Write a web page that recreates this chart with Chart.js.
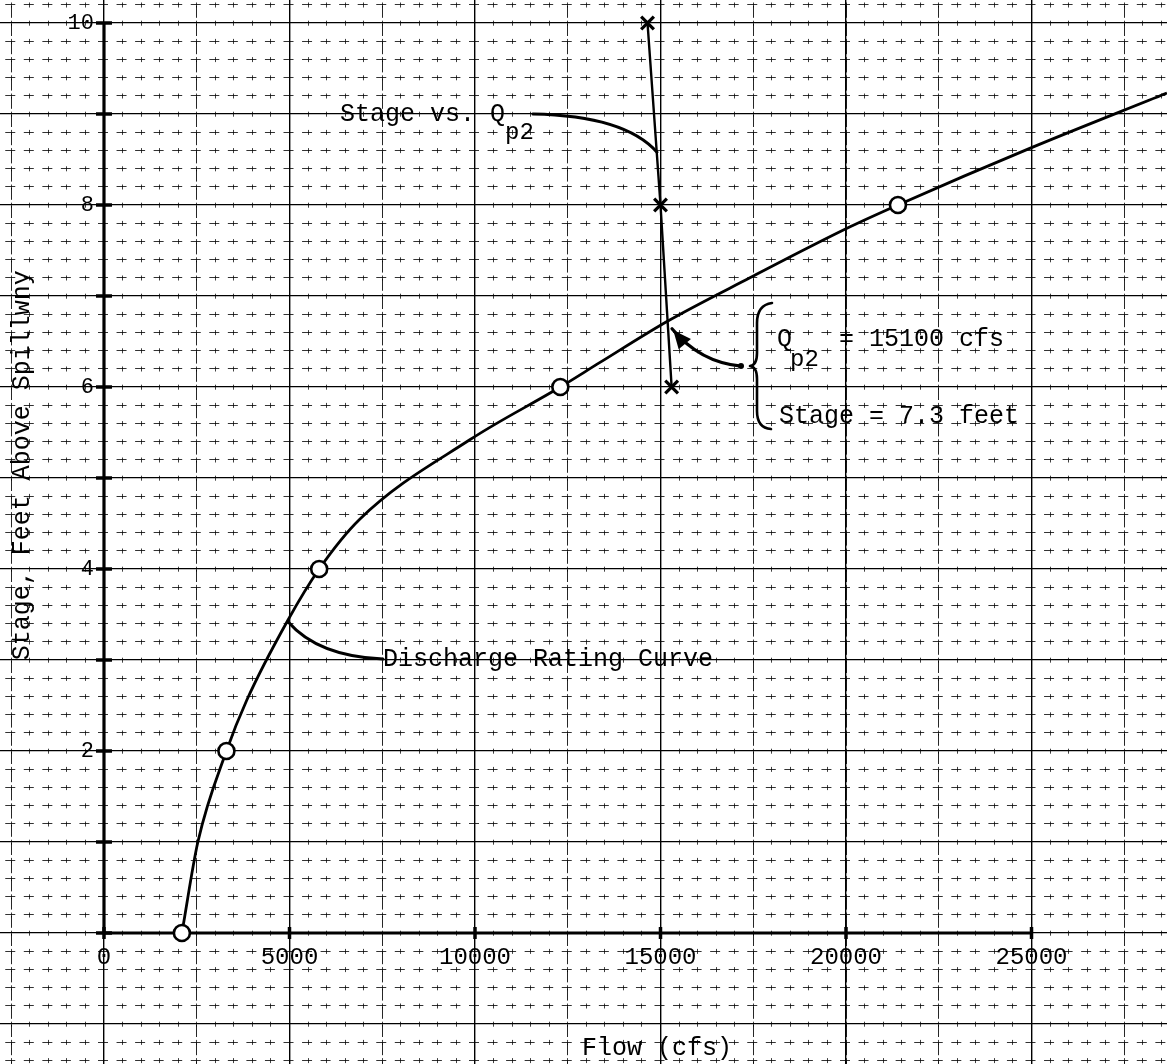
<!DOCTYPE html>
<html>
<head>
<meta charset="utf-8">
<script src="https://cdn.jsdelivr.net/npm/chart.js@4.4.1/dist/chart.umd.min.js"></script>
<style>
html,body{margin:0;padding:0;background:#fff;}
#wrap{width:1167px;height:1064px;position:relative;background:#fff;}
</style>
</head>
<body>
<div id="wrap"><canvas id="c"></canvas></div>
<script>
// ---- data ----
const ratingFlow  = [2100, 2530, 3300, 3850, 4960, 5800, 6900, 9860, 12300, 13370, 15175, 17410, 20110, 21400, 25000, 28650];
const ratingStage = [0, 1.0, 2.0, 2.56, 3.44, 4.0, 4.55, 5.42, 6.0, 6.27, 6.72, 7.2, 7.76, 8.0, 8.63, 9.23];
const measuredFlow  = [2100, 3300, 5800, 12300, 21400];
const measuredStage = [0, 2, 4, 6, 8];
const qp2Flow  = [14650, 15000, 15300];
const qp2Stage = [10, 8, 6];
const xTickValues = [0, 5000, 10000, 15000, 20000, 25000];
const yTickValues = [2, 4, 6, 8, 10];
const yAxisMarks  = [0, 1, 2, 3, 4, 5, 6, 7, 8, 9, 10];
const labels = {
  yTitle: 'Stage, Feet Above Spillwny',
  xTitle: 'Flow (cfs)',
  stageVs: 'Stage vs. Q',
  sub: 'p2',
  rating: 'Discharge Rating Curve',
  q: 'Q',
  qValue: '= 15100 cfs',
  stageValue: 'Stage = 7.3 feet'
};

// ---- view range / styling ----
const X_MIN = -2803, X_MAX = 28652;
const Y_MIN = -1.4396, Y_MAX = 10.2527;
const FONT = '"Liberation Mono", "DejaVu Sans Mono", monospace';

const noPad = s => { s.paddingLeft = 0; s.paddingRight = 0; s.paddingTop = 0; s.paddingBottom = 0; };

function gridScale(axis, step, color, width, dash, dashOffset) {
  const lo = axis === 'x' ? X_MIN : Y_MIN, hi = axis === 'x' ? X_MAX : Y_MAX;
  return {
    type: 'linear', axis: axis, min: lo, max: hi, display: true,
    afterBuildTicks: s => {
      const t = [];
      for (let k = Math.ceil(lo / step); k * step <= hi; k++) t.push({value: +(k * step).toFixed(6)});
      s.ticks = t;
    },
    afterFit: noPad,
    ticks: {display: false},
    grid: {display: true, drawTicks: false, color: color, lineWidth: width},
    border: {display: false, dash: dash, dashOffset: dashOffset}
  };
}

const pts = (xs, ys) => xs.map((v, i) => ({x: v, y: ys[i]}));

// annotation geometry, in data units (flow, stage)
const notes = {
  texts: [
    {t: labels.stageVs, x: 6361, y: 9.0, size: 25},
    {t: labels.sub, x: 10809, y: 8.79, size: 24},
    {t: labels.rating, x: 7520, y: 3.01, size: 25},
    {t: labels.q, x: 18140, y: 6.52, size: 25},
    {t: labels.sub, x: 18490, y: 6.30, size: 24},
    {t: labels.qValue, x: 19810, y: 6.52, size: 25},
    {t: labels.stageValue, x: 18194, y: 5.68, size: 25}
  ],
  leaders: [
    [[11563, 9.0], [14043, 8.98], [14906, 8.58]],
    [[4960, 3.42], [5768, 3.04], [7520, 3.01]]
  ],
  arrow: [[17170, 6.23], [16065, 6.27], [15310, 6.64]],
  brace: {top: [18005, 6.923], x: 17601, tip: [17412, 6.231], bottom: [17978, 5.538]},
  yTitle: {x: -2210, y: 5.14},
  xTitle: {x: 14906, y: -1.264}
};

const annotate = {
  id: 'annotate',
  beforeDraw(chart) {
    const c = chart.ctx;
    c.save(); c.fillStyle = '#fff'; c.fillRect(0, 0, chart.width, chart.height); c.restore();
  },
  afterDatasetsDraw(chart) {
    const c = chart.ctx, sx = chart.scales.x, sy = chart.scales.y;
    const X = v => sx.getPixelForValue(v), Y = v => sy.getPixelForValue(v);
    c.save();
    c.strokeStyle = '#000'; c.fillStyle = '#000'; c.lineCap = 'round'; c.lineJoin = 'round';
    c.lineWidth = 3;
    notes.leaders.forEach(L => {
      c.beginPath();
      c.moveTo(X(L[0][0]), Y(L[0][1]));
      c.quadraticCurveTo(X(L[1][0]), Y(L[1][1]), X(L[2][0]), Y(L[2][1]));
      c.stroke();
    });
    const A = notes.arrow;
    c.lineWidth = 3.2;
    c.beginPath();
    c.moveTo(X(A[0][0]), Y(A[0][1]));
    c.quadraticCurveTo(X(A[1][0]), Y(A[1][1]), X(A[2][0]), Y(A[2][1]));
    c.stroke();
    const hx = X(A[2][0]), hy = Y(A[2][1]);
    const dx = hx - X(A[1][0]), dy = hy - Y(A[1][1]);
    const len = Math.hypot(dx, dy), ux = dx / len, uy = dy / len;
    const bx = hx - ux * 20, by = hy - uy * 20;
    c.beginPath();
    c.moveTo(hx - ux * 2, hy - uy * 2);
    c.lineTo(bx - uy * 8, by + ux * 8);
    c.lineTo(bx + uy * 8, by - ux * 8);
    c.closePath(); c.fill();
    c.beginPath(); c.arc(X(A[0][0]), Y(A[0][1]), 3, 0, Math.PI * 2); c.fill();
    const B = notes.brace, bxp = X(B.x);
    const ty = Y(B.top[1]), my = Y(B.tip[1]), byy = Y(B.bottom[1]);
    c.lineWidth = 2.6;
    c.beginPath();
    c.moveTo(X(B.top[0]), ty);
    c.quadraticCurveTo(bxp, ty + 2, bxp, ty + 20);
    c.lineTo(bxp, my - 13);
    c.quadraticCurveTo(bxp, my - 1, X(B.tip[0]), my);
    c.quadraticCurveTo(bxp, my + 1, bxp, my + 13);
    c.lineTo(bxp, byy - 18);
    c.quadraticCurveTo(bxp, byy - 1, X(B.bottom[0]), byy);
    c.stroke();
    c.textBaseline = 'middle'; c.textAlign = 'left';
    notes.texts.forEach(T => {
      c.font = T.size + 'px ' + FONT;
      c.fillText(T.t, X(T.x), Y(T.y));
    });
    c.font = '25px ' + FONT; c.textAlign = 'center';
    c.fillText(labels.xTitle, X(notes.xTitle.x), Y(notes.xTitle.y));
    c.translate(X(notes.yTitle.x), Y(notes.yTitle.y));
    c.rotate(-Math.PI / 2);
    c.fillText(labels.yTitle, 0, 0);
    c.restore();
  }
};

new Chart(document.getElementById('c'), {
  type: 'scatter',
  data: {
    datasets: [
      {label: 'measured', data: pts(measuredFlow, measuredStage), showLine: false,
       pointStyle: 'circle', pointRadius: 8, pointBorderWidth: 2.6,
       pointBackgroundColor: '#fff', pointBorderColor: '#000'},
      {label: 'stage vs Qp2', data: pts(qp2Flow, qp2Stage), showLine: true,
       borderColor: '#000', borderWidth: 2.4, tension: 0,
       pointStyle: 'crossRot', pointRadius: 9, pointBorderWidth: 3.2, pointBorderColor: '#000'},
      {label: 'rating', data: pts(ratingFlow, ratingStage), showLine: true,
       borderColor: '#000', borderWidth: 2.8, pointRadius: 0, cubicInterpolationMode: 'monotone'},
      {label: 'y axis', data: yAxisMarks.map(v => ({x: 0, y: v})), showLine: true,
       borderColor: '#000', borderWidth: 3.2, pointStyle: 'line', pointRadius: 8,
       pointBorderWidth: 3.5, pointBorderColor: '#000'},
      {label: 'x axis', data: xTickValues.map(v => ({x: v, y: 0})), showLine: true,
       borderColor: '#000', borderWidth: 3, pointStyle: 'line', pointRotation: 90, pointRadius: 6,
       pointBorderWidth: 3.5, pointBorderColor: '#000'}
    ]
  },
  options: {
    responsive: true, maintainAspectRatio: false, animation: false, events: [],
    devicePixelRatio: 1,
    layout: {padding: 0, autoPadding: false},
    plugins: {legend: {display: false}, tooltip: {enabled: false}},
    scales: {
      xMinor: gridScale('x', 500, 'rgba(0,0,0,0.75)', 1, [5, 13.2], 15.7),
      xMid:   gridScale('x', 2500, 'rgba(0,0,0,0.85)', 1, [12, 6.2], 12.4),
      xMajor: gridScale('x', 5000, '#000', 1.4, [], 0),
      yMinor: gridScale('y', 0.2, 'rgba(0,0,0,0.8)', 1, [10, 8.55], 13.3),
      yMajor: gridScale('y', 1, '#000', 1.2, [], 0),
      x: {
        type: 'linear', min: X_MIN, max: X_MAX, position: {y: 0},
        afterBuildTicks: a => { a.ticks = xTickValues.map(v => ({value: v})); },
        afterFit: noPad,
        ticks: {autoSkip: false, maxRotation: 0, color: '#000', padding: 10,
                font: {family: FONT, size: 24}, callback: v => String(v)},
        grid: {display: false, drawTicks: false},
        border: {display: false}
      },
      y: {
        type: 'linear', min: Y_MIN, max: Y_MAX, position: {x: -270},
        afterBuildTicks: a => { a.ticks = yTickValues.map(v => ({value: v})); },
        afterFit: noPad,
        ticks: {autoSkip: false, color: '#000', padding: 0,
                font: {family: FONT, size: 22}, callback: v => String(v)},
        grid: {display: false, drawTicks: false},
        border: {display: false}
      }
    }
  },
  plugins: [annotate]
});
</script>
</body>
</html>
